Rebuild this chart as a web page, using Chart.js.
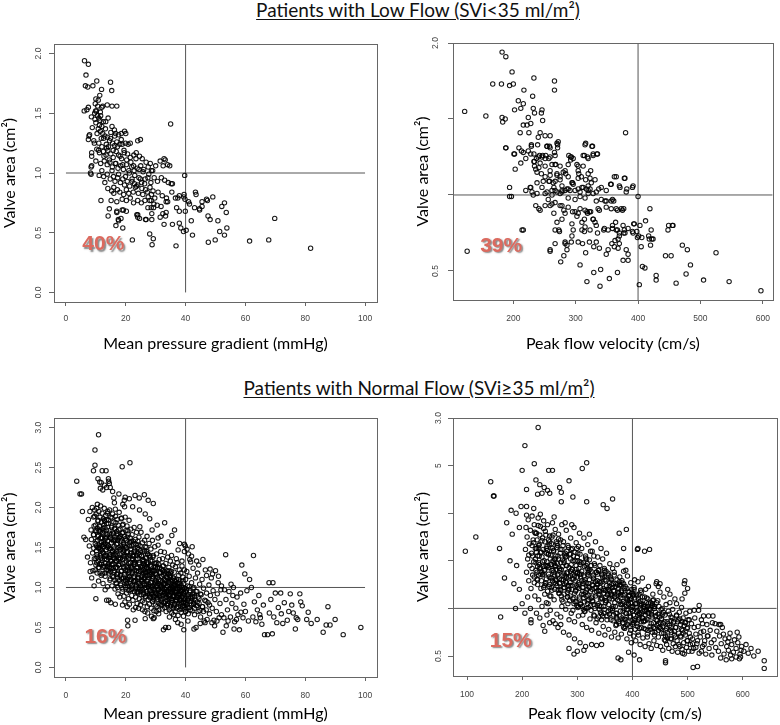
<!DOCTYPE html>
<html>
<head>
<meta charset="utf-8">
<script src="https://cdn.jsdelivr.net/npm/chart.js@4.4.1/dist/chart.umd.min.js"></script>
<style>
  body { margin: 0; background: #fff; width: 780px; height: 725px; position: relative; overflow: hidden; font-family: Lato, sans-serif; }
  .heading { position: absolute; font-size: 19px; line-height: 19px; text-decoration: underline; text-underline-offset: 2px; white-space: nowrap; transform: translateX(-50%); color: #111; }
  canvas { position: absolute; }
</style>
</head>
<body>
<div class="heading" style="left:418px; top:0px">Patients with Low Flow (SVi&lt;35 ml/m²)</div>
<div class="heading" style="left:419px; top:378px">Patients with Normal Flow (SVi≥35 ml/m²)</div>
<canvas id="lowMpg" width="390" height="330" style="left:0; top:30px"></canvas>
<canvas id="lowPfv" width="390" height="330" style="left:390px; top:30px"></canvas>
<canvas id="normMpg" width="390" height="320" style="left:0; top:405px"></canvas>
<canvas id="normPfv" width="390" height="320" style="left:390px; top:405px"></canvas>
<script>
// axis ticks and labels
const mpgTicks = [0, 20, 40, 60, 80, 100];
const lowPfvTicks = [200, 300, 400, 500, 600];
const normPfvTicks = [100, 200, 300, 400, 500, 600];
const lowMpgYTicks = [0, 0.5, 1, 1.5, 2];
const lowMpgYLabels = ['0.0', '0.5', '1.0', '1.5', '2.0'];
const lowPfvYTicks = [0.5, 1, 1.5, 2];
const lowPfvYLabels = ['0.5', '', '', '2.0'];
const normMpgYTicks = [0, 0.5, 1, 1.5, 2, 2.5, 3];
const normMpgYLabels = ['0.0', '0.5', '1.0', '1.5', '2.0', '2.5', '3.0'];
const normPfvYTicks = [0.5, 1, 1.5, 2, 2.5, 3];
const normPfvYLabels = ['0.5', '', '', '', '5', '3.0'];
const pctLabels = ['40%', '39%', '16%', '15%'];

// low flow: mean pressure gradient (mmHg) vs valve area (cm2)
const lowMpgPoints = [
  [6.2,1.94],[7.5,1.91],[6.7,1.82],[6.5,1.73],[7.3,1.72],[9.0,1.73],[10.3,1.77],[11.9,1.70],[14.9,1.76],[15.3,1.69],
  [10.0,1.62],[11.3,1.65],[6.1,1.52],[7.0,1.53],[7.5,1.55],[9.8,1.58],[10.6,1.56],[12.0,1.55],[10.2,1.52],[11.5,1.51],
  [9.6,1.50],[10.5,1.48],[13.8,1.57],[15.4,1.56],[17.0,1.56],[8.5,1.47],[9.7,1.45],[11.0,1.46],[11.6,1.48],[10.0,1.42],
  [11.2,1.40],[10.8,1.37],[12.0,1.39],[12.5,1.43],[13.3,1.43],[7.7,1.31],[7.9,1.32],[7.5,1.28],[15.4,1.39],[16.2,1.36],
  [15.0,1.34],[16.6,1.33],[17.6,1.32],[18.5,1.33],[20.0,1.33],[19.6,1.35],[35.0,1.41],
  [11.5,1.35],[12.3,1.33],[13.0,1.31],[12.6,1.29],[13.9,1.30],[11.0,1.25],[12.0,1.22],[13.5,1.24],[14.6,1.27],[14.2,1.22],
  [15.6,1.25],[16.3,1.23],[17.0,1.26],[18.0,1.24],[18.8,1.24],[19.9,1.25],[21.5,1.25],[24.0,1.27],[24.9,1.28],[10.3,1.20],
  [11.2,1.17],[12.5,1.18],[13.4,1.15],[14.0,1.19],[15.0,1.16],[15.8,1.13],[16.8,1.18],[17.6,1.15],[18.6,1.12],[19.5,1.17],
  [20.6,1.16],[21.5,1.13],[22.7,1.15],[23.4,1.12],[24.6,1.14],[25.5,1.12],[8.6,1.14],[8.6,1.17],[10.0,1.10],[11.6,1.08],
  [12.8,1.10],[13.8,1.07],[14.7,1.09],[15.5,1.05],[16.5,1.08],[17.4,1.04],[18.3,1.06],[19.2,1.03],[20.2,1.07],[21.0,1.02],
  [22.0,1.05],[22.8,1.02],[23.8,1.04],[25.0,1.06],[26.0,1.03],[27.5,1.05],[28.2,1.08],[29.0,1.02],[30.0,1.06],[31.5,1.10],
  [32.5,1.06],[33.2,1.11],[34.0,1.07],[34.7,1.06],[32.8,1.12],
  [8.2,1.00],[8.4,1.05],[8.6,1.06],[8.4,0.99],[11.1,0.98],[12.6,0.97],[13.8,0.99],[14.8,0.95],[15.9,0.97],[16.4,0.93],
  [17.3,0.96],[18.2,0.92],[19.0,0.95],[19.6,0.90],[20.5,0.93],[21.3,0.89],[22.1,0.95],[22.9,0.91],[23.2,0.88],[23.6,0.89],
  [24.4,0.96],[25.3,0.92],[26.5,0.95],[27.4,0.96],[28.4,0.92],[29.5,0.96],[30.6,0.93],[31.9,0.96],[33.0,0.94],[34.2,0.92],
  [35.2,0.91],[35.6,0.91],[39.7,0.98],
  [14.0,0.87],[15.3,0.85],[16.0,0.83],[17.2,0.86],[18.0,0.84],[19.3,0.82],[20.2,0.86],[21.0,0.83],[22.5,0.84],[24.2,0.83],
  [25.7,0.82],[26.6,0.86],[27.5,0.80],[28.6,0.82],[29.7,0.79],[30.8,0.84],[32.2,0.81],[33.6,0.79],[35.4,0.84],[36.6,0.79],
  [37.9,0.81],[39.5,0.82],[39.4,0.80],[39.8,0.78],[43.5,0.82],[43.3,0.84],[45.5,0.76],[47.0,0.78],[47.3,0.77],[49.1,0.80],
  [11.7,0.77],[15.1,0.77],[17.0,0.76],[18.8,0.78],[20.2,0.77],[21.5,0.79],[22.6,0.75],[24.0,0.77],[25.2,0.75],[26.4,0.77],
  [28.0,0.77],[28.5,0.77],[29.4,0.74],[30.5,0.73],[31.8,0.72],[33.5,0.76],[34.0,0.76],[37.4,0.79],[41.3,0.74],[44.6,0.70],
  [45.5,0.72],[41.0,0.76],
  [14.1,0.64],[14.5,0.70],[17.0,0.68],[17.0,0.67],[17.5,0.61],[16.7,0.56],[19.0,0.54],[18.8,0.69],[20.2,0.68],[19.2,0.69],
  [17.6,0.60],[18.4,0.62],[22.2,0.44],[24.0,0.65],[24.0,0.63],[23.7,0.65],[24.6,0.62],[26.6,0.61],[26.8,0.61],[27.4,0.71],
  [28.5,0.71],[28.0,0.49],[28.7,0.61],[28.7,0.66],[29.2,0.45],[28.8,0.40],[29.3,0.71],[31.5,0.63],[32.4,0.66],[33.3,0.64],
  [33.5,0.67],[32.8,0.57],[35.6,0.57],[36.8,0.39],[37.0,0.71],[37.9,0.58],[37.9,0.68],[38.4,0.54],[39.3,0.51],[39.9,0.68],
  [40.2,0.52],[41.9,0.60],[42.3,0.48],[43.0,0.71],[44.7,0.69],[47.5,0.64],[48.2,0.61],[47.6,0.42],[49.9,0.44],[50.8,0.60],
  [51.4,0.51],[53.0,0.48],[52.1,0.72],[53.0,0.75],[53.6,0.67],[53.8,0.54],[61.4,0.43],[67.8,0.44],[69.8,0.62],[81.8,0.37],
  [8.8,1.38],[9.3,1.27],[9.9,1.52],[10.4,1.33],[10.9,1.19],[11.4,1.44],[11.8,1.29],[12.3,1.56],[12.7,1.14],[13.2,1.37],
  [13.6,1.21],[14.1,1.46],[14.5,1.11],[14.9,1.29],[15.4,1.02],[15.8,1.19],[16.3,1.31],[16.7,1.08],[17.2,1.22],[17.6,0.99],
  [18.1,1.14],[18.5,1.28],[19.0,1.07],[19.4,1.19],[19.9,0.97],[20.3,1.11],[20.8,1.24],[21.2,1.00],[21.7,1.09],[22.1,0.93],
  [22.6,1.06],[23.0,0.98],[23.5,1.17],[24.0,0.90],[24.4,1.03],[24.9,0.95],[25.4,0.87],[25.8,1.01],[26.3,0.91],[26.8,1.09],
  [27.2,0.84],[27.7,0.99],[28.1,0.88],[28.6,1.02],[29.1,0.85],[12.0,1.02],[13.0,0.92],[16.0,0.88],[9.5,1.25],[10.8,1.61]
];

// low flow: peak flow velocity (cm/s) vs valve area (cm2)
const lowPfvPoints = [
  [122,1.55],[156,1.52],[182,1.94],[188,1.91],[198,1.81],[167,1.73],[181,1.73],[194,1.72],[200,1.73],[217,1.69],
  [233,1.77],[266,1.75],[266,1.69],[208,1.62],[216,1.60],[212,1.57],[202,1.56],[231,1.65],[232,1.57],[234,1.54],
  [246,1.56],[245,1.54],[247,1.49],[182,1.51],[183,1.48],[187,1.50],[188,1.31],[216,1.46],[222,1.46],[228,1.47],
  [211,1.41],[225,1.41],[224,1.51],[240,1.38],[239,1.33],[243,1.41],[251,1.39],[259,1.39],[254,1.32],[258,1.32],
  [272,1.35],[271,1.33],[266,1.28],[201,1.27],[213,1.29],[224,1.29],[203,1.17],[212,1.21],[220,1.24],[229,1.32],
  [228,1.27],[233,1.27],[237,1.24],[242,1.26],[247,1.26],[252,1.26],[257,1.24],[234,1.22],[236,1.17],[243,1.21],
  [315,1.33],[326,1.32],[312,1.26],[320,1.24],[335,1.27],[328,1.26],[292,1.25],[296,1.24],[380,1.41],[365,1.12],
  [379,1.11],[356,1.07],[371,1.05],[382,1.04],[392,1.06],[400,0.99],
  [251,1.19],[259,1.16],[267,1.20],[270,1.14],[275,1.12],[283,1.16],[288,1.20],[302,1.20],[304,1.16],[312,1.19],
  [320,1.14],[324,1.16],[331,1.10],[320,1.06],[310,1.05],[299,1.03],[288,1.04],[278,1.02],[265,1.05],[257,1.09],
  [246,1.05],[238,1.08],[230,1.02],[267,1.09],[278,1.06],[294,1.08],[307,0.99],[320,1.01],[333,1.02],[341,1.05],
  [349,1.03],[194,1.05],[194,0.99],[197,0.99],
  [188,1.31],[202,1.27],[209,1.31],[216,1.28],[229,1.33],[233,1.22],[234,1.19],[238,1.15],[241,1.18],[245,1.14],
  [254,1.32],[259,1.31],[270,1.34],[271,1.31],[267,1.26],[259,1.25],[251,1.24],[246,1.25],[240,1.25],[262,1.20],
  [268,1.20],[275,1.19],[280,1.15],[270,1.13],[259,1.13],[251,1.12],[248,1.09],[258,1.09],[264,1.08],[275,1.10],
  [284,1.14],[288,1.12],[295,1.08],[304,1.11],[309,1.12],[316,1.10],[323,1.11],[325,1.08],[323,1.04],[312,1.05],
  [304,1.04],[286,1.04],[278,1.03],[270,1.02],[262,1.03],[254,1.02],[227,1.05],[289,1.26],[293,1.25],[292,1.23],
  [304,1.19],[305,1.14],[314,1.26],[319,1.25],[328,1.27],[334,1.27],[316,1.34],[327,1.32],[317,1.04],[337,1.04],
  [362,1.12],[378,1.11],[370,1.06],[357,1.07],[391,1.05],[381,1.02],
  [228,1.05],[232,1.00],[238,1.01],[236,0.93],[251,0.93],[243,0.90],[241,0.91],[267,0.95],[265,0.88],[259,0.93],
  [262,0.94],[275,0.93],[278,0.93],[270,0.82],[273,0.77],[281,0.90],[283,0.88],[283,0.69],[283,0.68],[293,0.69],
  [267,0.77],[274,0.76],[276,0.56],[281,0.60],[294,0.81],[296,0.77],[302,0.86],[307,0.91],[310,0.82],[315,0.79],
  [314,0.76],[304,0.88],[311,0.68],[316,0.62],[307,0.54],[318,0.89],[322,0.89],[324,0.89],[328,0.84],[331,0.82],
  [333,0.80],[329,0.66],[338,0.65],[318,0.43],[329,0.49],[340,0.51],[339,0.40],[354,0.45],[341,0.97],[349,0.96],
  [359,0.97],[361,0.96],[349,0.92],[357,0.91],[367,0.90],[373,0.91],[377,0.91],[345,0.77],[352,0.77],[359,0.80],
  [364,0.82],[367,0.77],[370,0.75],[377,0.75],[363,0.70],[368,0.71],[370,0.68],[358,0.68],[362,0.66],[368,0.65],
  [381,0.64],[376,0.57],[384,0.57],[349,0.61],[352,0.64],[367,0.49],[384,0.61],[393,0.81],[398,0.76],[384,0.78],
  [376,0.80],[392,0.75],[412,0.83],[419,0.91],[421,0.77],[418,0.71],[424,0.71],[420,0.67],[405,0.66],[406,0.72],
  [401,0.73],[402,0.41],[407,0.53],[411,0.52],[429,0.47],[429,0.44],[444,0.60],[453,0.60],[449,0.80],[456,0.80],
  [461,0.42],[471,0.67],[479,0.64],[477,0.48],[484,0.54],[505,0.44],[525,0.62],[546,0.43],[597,0.37],[126,0.63],
  [216,0.77],[259,0.63],[220,1.03],[251,1.01],[256,0.97],[262,1.00],[267,1.03],[275,1.01],[283,1.03],[288,0.98],
  [299,0.97],[307,1.02],[315,0.98],[320,1.03],[328,1.01],[333,0.96],[291,1.03],[296,1.07],[288,0.92],[295,0.89],
  [299,0.89],[278,0.84],[304,0.69],[322,0.69],[286,0.67],[294,0.73],[310,0.77],[323,0.77],[335,0.75],[346,0.78],
  [359,0.78],[365,0.77],[378,0.77],[394,0.81],[403,0.80],[370,0.73],[379,0.75],[391,0.76],[399,0.72],[417,0.73],
  [422,0.71],[333,0.69],[286,0.64],[267,0.68],[259,0.64],[448,0.77],[455,0.80],[214,0.77],[315,0.90],[319,0.88],
  [336,0.91],[338,0.90],[347,0.96],[357,0.96],[365,0.91],[375,0.90],[314,0.84],[328,0.84]
];

// normal flow: mean pressure gradient (mmHg) vs valve area (cm2)
const normMpgPoints = [
  [3.6,2.33],[4.7,2.17],[5.2,2.17],[9.7,2.72],[9.7,2.53],[9.2,2.46],[12.1,2.46],[13.4,2.46],[10.9,2.91],[21.4,2.56],
  [18.8,2.51],[10.7,2.36],[11.3,2.32],[11.8,2.31],[14.2,2.36],[14.3,2.33],[14.5,2.30],[13.6,2.25],[14.8,2.25],[17.7,2.17],
  [19.8,2.13],[19.5,2.09],[21.2,2.11],[23.1,2.15],[24.5,2.12],[26.2,2.16],[27.5,2.09],[29.2,2.05],[16.2,2.06],[16.5,1.98],
  [19.0,2.04],[19.6,2.01],[33.0,1.81],[35.4,1.65],[38.0,1.55],[39.6,1.54],[42.2,1.51],[31.8,1.64],[12.3,2.22],[12.9,2.28],
  [11.5,2.24],[15.6,2.20],[16.0,2.12],[6.0,1.63],[6.6,1.60],[5.5,1.95],[30.5,1.78],[28.0,1.86],[26.5,1.92],[24.6,1.97],
  [22.3,2.01],[36.3,1.72],[34.2,1.57],[37.5,1.47],[40.5,1.48],[41.0,1.42],
  [7.5,1.85],[7.8,1.52],[8.0,1.95],[8.2,1.31],[8.4,1.72],[8.5,1.60],[8.8,2.00],[8.9,1.43],[9.0,1.21],[9.2,1.88],
  [9.3,1.66],[9.5,1.36],[9.6,1.97],[9.8,1.55],[9.9,1.78],[10.0,1.28],[8.1,1.20],[8.6,1.12],[7.2,1.38],[9.4,1.02],[10.0,0.86],
  [10.1,1.92],[10.2,1.46],[10.3,1.71],[10.4,1.18],[10.5,2.04],[10.6,1.59],[10.7,1.84],[10.8,1.33],[10.9,1.65],[11.0,1.95],
  [11.1,1.25],[11.2,1.77],[11.3,1.50],[11.4,1.88],[11.5,1.40],[11.6,2.02],[11.7,1.62],[11.8,1.15],[11.9,1.82],[12.0,1.53],
  [10.4,1.38],[10.9,1.08],[11.5,1.70],[11.9,1.29],[10.3,1.99],[10.7,1.50],
  [12.1,1.93],[12.2,1.44],[12.3,1.68],[12.4,1.05],[12.5,1.86],[12.6,1.27],[12.7,1.57],[12.8,1.99],[12.9,1.36],[13.0,1.75],
  [13.1,1.14],[13.2,1.61],[13.3,1.90],[13.4,1.47],[13.5,1.22],[13.6,1.80],[13.7,1.39],[13.8,1.66],[13.9,1.01],[14.0,1.95],
  [12.4,1.74],[12.9,1.83],[13.3,1.30],[13.7,1.54],[12.2,1.17],[13.1,0.97],
  [14.1,1.52],[14.2,1.84],[14.3,1.18],[14.4,1.71],[14.5,1.41],[14.6,1.97],[14.7,1.09],[14.8,1.63],[14.9,1.33],[15.0,1.88],
  [15.1,1.24],[15.2,1.56],[15.3,1.77],[15.4,1.02],[15.5,1.46],[15.6,1.92],[15.7,1.29],[15.8,1.68],[15.9,1.13],[16.0,1.82],
  [14.3,0.84],[15.0,0.81],[14.8,1.48],[15.4,1.60],[14.5,1.26],[15.8,1.40],
  [16.1,1.51],[16.2,1.21],[16.3,1.74],[16.4,0.98],[16.5,1.60],[16.6,1.89],[16.7,1.34],[16.8,1.05],[16.9,1.67],[17.0,1.42],
  [17.1,1.85],[17.2,1.16],[17.3,1.55],[17.4,0.92],[17.5,1.78],[17.6,1.28],[17.7,1.62],[17.8,1.94],[17.9,1.09],[18.0,1.47],
  [16.4,1.43],[17.0,1.70],[17.6,1.37],[16.8,1.25],[17.3,1.00],[18.0,0.88],
  [18.1,1.73],[18.2,1.36],[18.3,1.03],[18.4,1.58],[18.5,1.86],[18.6,1.21],[18.7,1.49],[18.8,0.95],[18.9,1.68],[19.0,1.30],
  [19.1,1.79],[19.2,1.12],[19.3,1.54],[19.4,0.89],[19.5,1.41],[19.6,1.64],[19.7,1.18],[19.8,1.88],[19.9,1.00],[20.0,1.50],
  [18.5,1.12],[19.3,1.26],[19.7,0.82],[18.9,0.78],[20.0,1.71],[18.3,1.64],
  [20.1,1.33],[20.2,1.59],[20.3,0.93],[20.4,1.77],[20.5,1.21],[20.6,1.45],[20.7,1.06],[20.8,1.67],[20.9,0.86],[21.0,1.38],
  [21.1,1.84],[21.2,1.14],[21.3,1.52],[21.4,0.97],[21.5,1.62],[21.6,1.27],[21.7,1.73],[21.8,1.02],[21.9,1.43],[22.0,0.90],
  [20.5,0.76],[21.2,0.79],[20.8,1.25],[21.6,1.10],[20.2,1.05],[21.9,1.58],
  [22.1,1.66],[22.2,1.19],[22.3,1.39],[22.4,0.84],[22.5,1.54],[22.6,1.08],[22.7,1.29],[22.8,1.75],[22.9,0.95],[23.0,1.47],
  [23.1,1.17],[23.2,1.60],[23.3,0.88],[23.4,1.35],[23.5,1.03],[23.6,1.69],[23.7,1.24],[23.8,0.80],[23.9,1.50],[24.0,1.12],
  [22.5,0.72],[23.3,0.75],[22.9,1.32],[23.7,1.42],[22.2,0.99],[24.0,1.58],
  [24.1,0.93],[24.2,1.43],[24.3,1.20],[24.4,1.63],[24.5,0.86],[24.6,1.31],[24.7,1.05],[24.8,1.52],[24.9,0.78],[25.0,1.26],
  [25.1,1.69],[25.2,0.99],[25.3,1.40],[25.4,1.14],[25.5,0.83],[25.6,1.56],[25.7,1.08],[25.8,1.35],[25.9,0.91],[26.0,1.47],
  [24.3,0.74],[25.2,1.22],[24.7,1.76],[25.6,0.72],[26.0,1.18],[24.9,1.02],
  [26.1,1.28],[26.2,0.81],[26.3,1.59],[26.4,1.03],[26.5,1.37],[26.6,0.88],[26.7,1.19],[26.8,1.50],[26.9,0.95],[27.0,1.24],
  [27.1,1.64],[27.2,0.76],[27.3,1.10],[27.4,1.42],[27.5,0.85],[27.6,1.31],[27.7,1.01],[27.8,1.55],[27.9,0.79],[28.0,1.16],
  [26.4,0.70],[27.3,0.68],[26.9,1.45],[27.7,1.21],[26.2,1.12],[28.0,0.92],
  [28.1,1.38],[28.2,0.87],[28.3,1.06],[28.4,1.48],[28.5,0.74],[28.6,1.21],[28.7,0.94],[28.8,1.33],[28.9,1.59],[29.0,0.82],
  [29.1,1.13],[29.2,1.40],[29.3,0.99],[29.4,0.71],[29.5,1.26],[29.6,0.89],[29.7,1.51],[29.8,1.07],[29.9,0.78],[30.0,1.30],
  [28.6,0.64],[29.5,0.62],[28.4,1.02],[29.0,1.20],[29.8,0.96],[28.8,1.72],
  [30.1,0.92],[30.2,1.16],[30.3,1.42],[30.4,0.76],[30.5,1.03],[30.6,1.25],[30.7,0.85],[30.8,1.53],[30.9,0.97],[31.0,1.10],
  [31.1,0.72],[31.2,1.35],[31.3,0.88],[31.4,1.19],[31.5,1.00],[31.6,0.79],[31.7,1.45],[31.8,0.94],[31.9,1.23],[32.0,0.82],
  [30.4,1.31],[31.0,0.67],[31.6,1.08],[30.8,1.62],[32.0,1.02],[30.2,0.70],
  [32.1,1.14],[32.2,0.73],[32.3,1.36],[32.4,0.90],[32.5,1.05],[32.6,1.27],[32.7,0.81],[32.8,0.98],[32.9,1.44],[33.0,0.75],
  [33.1,1.18],[33.2,0.87],[33.3,1.09],[33.4,1.30],[33.5,0.70],[33.6,0.95],[33.7,1.21],[33.8,0.84],[33.9,1.02],[34.0,1.38],
  [32.6,0.47],[33.3,0.50],[32.4,1.21],[33.1,0.93],[33.7,0.78],[34.0,1.12],
  [34.1,0.80],[34.2,1.06],[34.3,0.91],[34.4,1.25],[34.5,0.72],[34.6,1.15],[34.7,0.86],[34.8,0.99],[34.9,1.33],[35.0,0.77],
  [35.1,1.08],[35.2,0.93],[35.3,1.20],[35.4,0.68],[35.5,1.01],[35.6,0.84],[35.7,1.28],[35.8,0.96],[35.9,0.74],[36.0,1.12],
  [34.6,0.63],[35.3,1.40],[35.9,0.89],[34.3,1.17],[35.0,0.98],[36.0,0.66],
  [36.1,0.90],[36.2,1.19],[36.3,0.79],[36.4,1.03],[36.5,0.70],[36.6,1.26],[36.7,0.94],[36.8,0.83],[36.9,1.10],[37.0,0.74],
  [37.1,0.99],[37.2,1.31],[37.3,0.87],[37.4,1.06],[37.5,0.65],[37.6,0.92],[37.7,1.15],[37.8,0.80],[37.9,1.00],[38.0,0.72],
  [36.9,1.36],[37.4,0.56],[36.3,1.09],[37.9,1.22],[38.0,0.91],[36.6,0.60],
  [38.1,1.08],[38.2,0.84],[38.3,0.95],[38.4,1.18],[38.5,0.69],[38.6,1.02],[38.7,0.88],[38.8,1.27],[38.9,0.76],[39.0,0.97],
  [39.1,1.13],[39.2,0.81],[39.3,0.64],[39.4,1.05],[39.5,0.92],[39.6,1.22],[39.7,0.73],[39.8,0.99],[39.9,0.86],[40.0,1.10],
  [38.5,0.54],[39.4,0.47],[39.6,1.45],[39.9,1.52],[38.8,1.33],[40.0,0.70],
  [40.2,0.94],[40.4,1.20],[40.5,0.78],[40.7,1.02],[40.9,0.67],[41.0,0.88],[41.2,1.14],[41.3,0.75],[41.5,0.96],[41.7,1.32],
  [41.8,0.83],[42.0,1.06],[42.2,0.71],[42.3,0.92],[42.5,1.24],[42.7,0.80],[42.8,1.00],[43.0,0.66],[42.0,1.39],[41.4,1.35],
  [40.8,0.58],[43.0,0.89],[42.8,0.48],[43.5,0.50],
  [43.3,1.12],[43.6,0.77],[43.8,0.95],[44.0,1.18],[44.2,0.70],[44.5,0.86],[44.7,1.04],[45.0,0.63],[45.2,0.91],[45.5,1.10],
  [45.7,0.76],[46.0,0.99],[46.2,0.58],[46.4,0.84],[46.6,1.22],[46.9,0.72],[47.0,0.93],[44.4,1.28],[45.8,1.35],[47.0,1.15],
  [44.9,0.55],[46.5,0.56],[43.7,1.33],[47.2,0.60],
  [47.5,0.81],[47.8,1.03],[48.0,0.67],[48.3,0.90],[48.6,1.12],[48.9,0.74],[49.2,0.96],[49.5,0.59],[49.8,0.85],[50.0,1.21],
  [50.3,0.70],[50.6,0.92],[50.9,1.06],[51.2,0.62],[51.5,0.80],[51.8,0.97],[52.0,0.66],[48.2,1.23],[49.0,1.17],[50.5,0.58],
  [51.0,1.14],[49.7,0.52],[48.8,0.56],[52.0,1.02],
  [52.5,0.44],[53.4,1.41],[53.6,0.52],[53.5,0.85],[54.0,0.72],[54.5,0.95],[55.0,0.63],[55.5,0.80],[56.0,1.00],[56.4,0.57],
  [56.8,0.74],[57.2,0.88],[57.5,0.66],[58.0,0.47],[58.4,0.93],[58.8,1.28],[59.2,0.62],[59.5,0.79],[59.8,1.17],[60.0,0.70],
  [61.4,1.10],[60.5,0.96],[61.0,0.58],[62.7,1.40],[62.0,1.00],[62.5,0.63],[52.8,0.62],[54.2,0.58],[55.8,0.90],[57.0,0.60],
  [58.5,0.69],[53.0,0.97],[55.2,1.04],[56.2,0.48],
  [63.0,0.82],[63.5,0.57],[64.0,0.72],[64.5,0.90],[65.0,0.62],[65.5,0.54],[66.0,0.78],[66.4,0.41],[67.4,0.41],[69.0,0.42],
  [67.9,1.06],[69.2,1.06],[68.5,0.85],[68.0,0.68],[69.5,0.63],[70.0,0.93],[70.5,0.56],[71.0,0.75],[71.8,0.93],[72.0,0.67],
  [72.5,0.55],[73.0,0.81],[74.0,0.59],[75.0,0.92],[75.5,0.78],[76.0,0.68],[76.7,0.48],[77.0,0.62],[78.2,0.92],[78.5,0.82],
  [77.5,0.60],[81.0,0.69],[80.5,0.60],[84.0,0.60],[86.0,0.44],[87.0,0.53],[87.6,0.76],[88.3,0.53],[90.0,0.60],[92.7,0.41],
  [98.6,0.50],[64.8,0.66],[74.5,0.70],[79.0,0.77],[82.0,0.55],
  [20.6,0.59],[20.7,0.52],[23.1,0.59],[26.5,0.61],[29.2,0.61],[34.3,0.50],[16.5,0.79],[13.6,0.84]
];

// normal flow, mean gradient: the heavily overplotted core of the cloud
const normMpgCore = [
  [14.3,1.52],[27.1,1.08],[9.4,1.77],[33.8,0.93],[21.6,1.31],[38.2,0.86],[17.9,1.63],[11.2,1.29],[25.3,1.39],[42.7,0.79],
  [30.4,1.17],[15.8,1.24],[36.1,1.02],[19.5,1.47],[23.2,0.99],[12.6,1.71],[28.8,0.91],[40.3,0.97],[16.7,1.81],[34.9,1.18],
  [10.1,1.58],[26.4,1.27],[31.7,0.84],[20.8,1.12],[37.6,0.76],[13.9,1.93],[24.1,1.53],[44.2,0.88],[18.3,1.05],[29.6,1.30],
  [35.4,0.81],[22.7,1.44],[11.8,1.37],[39.1,1.08],[16.2,1.36],[32.5,1.21],[27.9,0.89],[14.8,1.11],[41.6,0.72],[19.1,1.69],
  [24.8,1.02],[9.8,1.22],[33.1,1.04],[21.3,1.56],[37.0,0.95],[13.4,1.47],[29.0,1.11],[17.4,1.18],[43.5,0.95],[26.0,0.93],
  [12.2,1.62],[38.8,0.73],[20.1,1.27],[30.9,0.98],[15.3,1.75],[35.9,1.12],[23.6,1.21],[10.7,1.83],[28.3,1.34],[45.6,0.76],
  [18.7,1.42],[32.0,0.78],[25.7,1.17],[14.0,1.28],[39.7,0.83],[21.9,0.97],[11.5,1.48],[36.6,1.07],[27.3,1.42],[16.9,1.54],
  [34.2,0.87],[22.4,1.36],[13.1,1.18],[40.9,0.91],[19.8,1.02],[29.4,0.85],[9.2,1.66],[24.5,1.29],[37.9,1.01],[15.6,1.45],
  [31.2,1.25],[17.2,1.12],[26.8,1.00],[12.9,1.84],[35.0,0.99],[20.5,1.63],[42.1,0.86],[28.1,1.19],[23.0,1.07],[10.4,1.41],
  [38.4,0.92],[16.0,1.67],[33.6,1.13],[25.0,1.46],[14.6,1.39],[30.1,0.93],[21.1,1.19],[46.8,0.83],[18.0,1.29],[36.3,0.80],
  [11.0,1.71],[27.6,1.23],[39.4,0.77],[23.9,0.95],[15.0,1.20],[32.8,0.95],[19.3,1.56],[34.7,1.06],[13.7,1.63],[26.2,1.11],
  [41.2,1.01],[20.4,1.39],[29.9,1.05],[12.4,1.25],[36.9,0.88],[17.7,1.72],[24.3,1.12],[31.5,0.90],[9.6,1.89],[43.0,0.74],
  [22.0,1.24],[35.7,0.94],[14.5,1.68],[28.6,1.00],[18.5,1.20],[33.3,0.82],[25.5,0.97],[11.9,1.56],[38.1,1.05],[16.4,1.09],
  [30.6,1.13],[21.7,1.48],[40.0,0.70],[13.6,1.35],[27.0,1.31],[19.0,0.98],[34.5,1.21],[23.4,1.54],[10.3,1.31],[37.3,0.98],
  [15.9,1.58],[26.6,0.89],[32.3,1.07],[20.0,1.08],[42.9,0.92],[12.0,1.47],[29.2,1.22],[17.0,1.45],[36.0,0.77],[24.0,1.36],
  [33.9,1.02],[18.9,1.78],[28.0,0.96],[14.1,1.21],[39.0,0.89],[22.2,1.03],[31.0,1.29],[10.9,1.49],[25.9,1.22],[44.8,0.71],
  [16.6,1.25],[35.2,0.86],[21.4,1.40],[13.0,1.55],[29.7,0.94],[37.7,1.10],[24.7,0.98],[19.6,1.52],[41.9,0.78],[27.4,1.15],
  [11.4,1.18],[32.6,1.16],[17.6,1.35],[26.3,1.45],[38.6,0.81],[15.2,1.33],[30.3,0.87],[22.9,1.14],[34.0,0.78],[20.7,1.71],
  [28.5,1.26],[12.7,1.78],[36.5,1.03],[18.2,1.15],[25.2,1.08],[40.6,0.84],[14.9,1.62],[31.9,1.01],[23.7,0.94],[9.9,1.71],
  [37.1,0.90],[19.7,1.31],[27.2,0.92],[16.3,1.73],[33.4,0.91],[22.5,1.58],[29.1,1.38],[13.3,1.40],[43.9,0.82],[35.6,1.09],
  [21.0,0.96],[31.4,1.18],[15.5,1.14],[26.9,1.37],[39.9,0.95],[11.6,1.62],[24.9,1.20],[18.4,1.61],[34.3,0.96],[28.9,0.83],
  [13.8,1.26],[36.8,0.83],[23.1,1.29],[30.0,1.09],[17.1,1.25],[41.4,0.94],[20.3,1.50],[32.1,0.86],[25.6,1.34],[10.6,1.64],
  [38.9,1.00],[16.1,1.48],[27.7,1.04],[35.1,0.74],[22.1,1.17],[14.2,1.80],[29.5,0.97],[19.4,1.24],[45.0,0.92],[24.4,1.48],
  [12.5,1.43],[33.0,1.20],[18.6,1.87],[26.1,1.05],[37.4,0.87],[21.5,1.05],[31.1,0.80],[15.1,1.66],[28.2,1.28],[40.4,0.79],
  [23.8,1.25],[35.8,1.02],[10.0,1.36],[30.8,1.05],[17.3,1.59],[25.1,0.91],[42.5,0.99],[20.9,1.36],[13.5,1.72],[33.7,0.88],
  [27.5,1.20],[16.8,1.06],[39.3,0.93],[22.6,1.40],[12.1,1.34],[34.8,1.13],[19.2,1.44],[29.8,1.17],[24.2,1.05],[36.4,0.94],
  [14.7,1.49],[31.6,1.03],[21.2,1.22],[38.3,0.78],[26.5,1.51],[11.3,1.76],[32.9,1.10],[18.1,1.37],[46.0,0.70],[28.7,1.06],
  [20.6,1.10],[35.5,0.97],[15.7,1.30],[25.4,1.27],[41.0,0.86],[13.2,1.63],[30.5,1.24],[23.5,1.01],[37.8,0.92],[17.8,1.50],
  [33.2,0.97],[10.8,1.25],[27.8,1.12],[19.9,1.61],[36.2,1.04],[22.8,1.31],[14.4,1.37],[31.3,0.92],[44.5,0.80],[26.7,1.18],
  [18.8,1.11],[39.6,0.99],[24.6,1.41],[12.3,1.51],[29.3,0.88],[16.5,1.41],[34.6,0.90],[21.8,1.25],[27.1,0.95],[40.8,0.75],
  [15.4,1.87],[32.4,1.27],[23.3,1.09],[37.5,1.05],[11.7,1.42],[28.4,1.16],[19.5,1.16],[35.3,0.84],[25.8,1.30],[13.6,1.85],
  [42.3,0.89],[21.6,1.57],[30.2,1.01],[17.5,1.28],[26.2,0.99],[36.7,0.96],[14.0,1.58],[33.5,1.00],[22.3,1.35],[48.0,0.78],
  [9.3,1.49],[24.0,1.13],[38.0,0.84],[16.0,1.19],[31.8,1.14],[20.2,1.44],[27.0,1.25],[35.0,1.14],[12.8,1.39],[29.0,1.02],
  [19.0,1.35],[34.1,0.80],[25.3,1.10],[11.1,1.53],[39.2,0.86],[22.9,1.45],[14.7,1.24],[30.7,0.91],[17.3,1.67],[43.2,0.84],
  [28.0,1.40],[13.0,1.26],[36.1,0.90],[23.7,1.40],[32.7,1.04],[18.4,1.52],[26.9,1.03],[40.1,0.81],[15.9,1.37],[21.3,1.13],
  [34.4,1.07],[10.5,1.74],[29.6,1.21],[20.0,1.21],[38.7,0.96],[24.8,0.95],[16.9,1.33],[31.0,0.97],[12.1,1.69],[27.2,1.29],
  [37.0,0.85],[22.0,1.52],[14.9,1.41],[33.8,1.08],[26.4,1.15],[19.8,1.09],[41.7,0.88],[28.6,0.92],[11.8,1.31],[35.9,0.88],
  [23.0,1.22],[17.0,1.17],[30.4,1.07],[13.9,1.50],[39.8,0.80],[25.6,1.25],[21.0,1.30],[32.2,0.99],[15.3,1.28],[44.0,0.77],
  [27.5,1.01],[12.6,1.54],[35.7,1.00],[18.1,1.48],[29.9,1.25],[24.1,1.16],[37.2,1.02],[20.5,1.02],[10.2,1.52],[33.0,0.93],
  [16.2,1.59],[26.0,1.33],[31.6,0.95],[22.7,1.08],[38.5,0.94],[14.3,1.30],[28.8,1.14],[19.3,1.39],[42.6,0.82],[34.9,0.95]
];

// normal flow: peak flow velocity (cm/s) vs valve area (cm2)
const normPfvPoints = [
  [229,2.90],[205,2.71],[222,2.52],[317,2.53],[309,2.47],[200,2.45],[248,2.45],[255,2.45],[143,2.33],[148,2.18],
  [149,2.18],[208,2.25],[225,2.35],[232,2.30],[240,2.27],[228,2.20],[236,2.21],[250,2.21],[246,2.24],[285,2.34],
  [268,2.27],[271,2.22],[271,2.12],[292,2.17],[317,2.12],[347,2.09],[354,2.05],[364,2.15],[180,2.03],[189,2.00],
  [198,2.07],[208,2.07],[221,2.05],[116,1.75],[376,1.79],[389,1.83],[384,1.63],[410,1.63],[97,1.60],[159,1.63],
  [168,1.32],[161,0.91],[188,1.00],[216,0.88],[216,0.85],[241,0.76],[270,0.83],[256,0.87],[260,0.84],[294,0.52],
  [326,0.62],[335,0.61],[344,0.62],[374,0.48],[379,0.46],[393,0.54],[403,0.51],[413,0.46],[460,0.45],[460,0.43],
  [491,0.53],[508,0.55],[510,0.38],[518,0.39],[570,0.46],[588,0.49],[578,0.51],[594,0.47],[597,0.56],[596,0.49],
  [639,0.45],[639,0.37],[593,0.70],[573,0.65],[575,0.69],[557,0.83],[560,0.83],[546,0.92],[529,0.92],[520,0.98],
  [521,1.03],[495,1.29],[494,1.26],[490,1.10],[495,1.16],[500,1.21],[480,1.05],[464,1.20],[468,1.15],[444,1.28],
  [447,1.23],[450,1.26],[422,1.60],[431,1.62],[409,1.62],[172,1.90],[182,1.78],[195,1.85],[190,1.45],[178,1.50],
  [195,1.20],[185,1.26],[200,1.05],[205,0.95],[210,1.12],[215,1.00],
  [206,1.62],[207,1.85],[208,1.38],[209,1.75],[210,1.52],[211,1.93],[212,1.29],[213,1.68],[214,1.45],[215,1.82],
  [216,1.21],[217,1.58],[218,1.97],[219,1.35],[220,1.72],[221,1.49],[222,1.88],[223,1.13],[224,1.63],[225,1.40],
  [212,1.56],[218,1.66],[222,1.27],[208,1.98],
  [226,1.79],[227,1.31],[228,1.55],[229,1.95],[230,1.09],[231,1.67],[232,1.42],[233,1.86],[234,1.21],[235,1.59],
  [236,1.02],[237,1.74],[238,1.36],[239,1.92],[240,1.50],[241,1.15],[242,1.81],[243,1.27],[244,1.63],[245,1.44],
  [230,1.48],[236,1.38],[241,1.70],[228,1.25],[244,1.06],[233,1.99],
  [246,1.88],[247,1.05],[248,1.57],[249,1.33],[250,1.76],[251,0.98],[252,1.46],[253,1.68],[254,1.19],[255,1.90],
  [256,1.40],[257,1.61],[258,1.09],[259,1.52],[260,1.83],[261,1.26],[262,1.70],[263,0.94],[264,1.35],[265,1.55],
  [249,1.23],[252,1.13],[256,1.77],[260,1.44],[263,1.64],[247,1.45],[254,1.32],[258,1.96],
  [266,1.78],[267,1.16],[268,1.42],[269,1.62],[270,0.91],[271,1.30],[272,1.88],[273,1.51],[274,1.07],[275,1.70],
  [276,1.37],[277,1.22],[278,1.58],[279,0.99],[280,1.82],[281,1.45],[282,1.12],[283,1.66],[284,1.33],[285,0.88],
  [268,1.26],[272,1.02],[276,1.48],[280,1.55],[284,1.19],[270,1.72],[278,1.90],[282,1.38],
  [286,1.57],[287,1.24],[288,1.74],[289,0.95],[290,1.41],[291,1.63],[292,1.10],[293,1.31],[294,1.85],[295,0.86],
  [296,1.50],[297,1.18],[298,1.69],[299,1.03],[300,1.37],[301,1.58],[302,0.92],[303,1.27],[304,1.79],[305,1.46],
  [288,1.34],[292,1.50],[296,1.07],[300,1.22],[304,1.12],[290,1.88],[298,1.41],[302,1.65],
  [306,1.05],[307,1.36],[308,1.63],[309,0.83],[310,1.22],[311,1.48],[312,1.74],[313,0.97],[314,1.30],[315,1.55],
  [316,1.13],[317,0.80],[318,1.42],[319,1.67],[320,1.01],[321,1.26],[322,1.51],[323,0.89],[324,1.18],[325,1.39],
  [308,1.15],[312,1.28],[316,1.45],[320,1.35],[324,1.60],[310,0.93],[318,1.08],[322,1.78],
  [326,0.77],[327,1.60],[328,1.08],[329,1.32],[330,0.93],[331,1.47],[332,1.21],[333,1.70],[334,0.85],[335,1.38],
  [336,1.03],[337,1.54],[338,1.15],[339,0.74],[340,1.28],[341,1.45],[342,0.96],[343,1.63],[344,1.11],[345,1.35],
  [328,1.24],[332,1.00],[336,1.26],[340,1.18],[344,0.88],[330,1.55],[338,1.40],[342,1.22],
  [346,1.52],[347,0.81],[348,1.19],[349,1.40],[350,0.72],[351,1.06],[352,1.29],[353,1.58],[354,0.92],[355,1.14],
  [356,1.37],[357,0.78],[358,1.23],[359,1.47],[360,0.99],[361,1.31],[362,0.70],[363,1.10],[364,1.42],[365,0.87],
  [348,1.02],[352,1.12],[356,1.20],[360,1.15],[364,1.00],[350,1.33],[358,0.94],[362,1.25],
  [366,1.18],[367,1.38],[368,0.75],[369,1.02],[370,1.26],[371,0.91],[372,1.46],[373,1.09],[374,0.69],[375,1.21],
  [376,0.84],[377,1.33],[378,0.97],[379,1.14],[380,0.73],[381,1.29],[382,1.05],[383,0.88],[384,1.39],[385,1.00],
  [368,1.12],[372,0.95],[376,1.08],[380,1.17],[384,0.80],[370,0.82],[378,1.25],[382,1.50],
  [386,0.79],[387,1.23],[388,0.95],[389,1.10],[390,0.68],[391,1.34],[392,0.86],[393,1.04],[394,1.17],[395,0.74],
  [396,0.92],[397,1.27],[398,0.64],[399,1.01],[400,0.83],[401,1.14],[402,0.71],[403,1.22],[404,0.89],[405,1.05],
  [388,1.40],[392,1.08],[396,0.81],[400,0.97],[404,1.30],[390,0.99],[398,1.10],[402,0.93],
  [406,0.66],[407,1.15],[408,0.84],[409,0.98],[410,1.28],[411,0.72],[412,1.07],[413,0.90],[414,0.62],[415,1.19],
  [416,0.80],[417,0.95],[418,1.32],[419,0.69],[420,1.02],[421,0.87],[422,1.12],[423,0.60],[424,0.78],[425,0.97],
  [408,1.05],[412,0.95],[416,1.05],[420,0.86],[424,1.20],[410,0.75],[418,0.90],
  [426,1.11],[427,0.70],[428,0.88],[429,1.23],[430,0.63],[431,0.99],[432,0.81],[433,1.06],[434,0.58],[435,0.93],
  [436,0.75],[437,1.15],[438,0.85],[439,0.66],[440,1.02],[441,0.79],[442,0.92],[443,1.26],[444,0.61],[445,0.87],
  [430,0.95],[436,1.03],[440,0.72],[428,0.77],[438,1.09],
  [446,1.08],[447,0.70],[448,0.94],[449,0.80],[450,1.17],[451,0.60],[452,0.89],[453,0.74],[454,1.00],[455,0.56],
  [456,0.84],[457,1.12],[458,0.67],[459,0.93],[460,0.77],[461,1.04],[462,0.62],[463,0.86],[464,0.71],[465,0.97],
  [450,0.85],[456,0.96],[460,0.66],[448,1.02],
  [466,0.58],[467,0.82],[468,1.06],[469,0.68],[470,0.91],[471,0.75],[472,0.55],[473,0.99],[474,0.63],[475,0.86],
  [476,0.72],[477,1.10],[478,0.60],[479,0.80],[480,0.93],[481,0.66],[482,0.54],[483,0.88],[484,0.74],[485,0.96],
  [470,0.80],[478,0.70],[484,0.62],
  [486,0.60],[487,0.83],[488,0.70],[489,1.01],[490,0.57],[491,0.77],[492,0.90],[493,0.64],[494,0.52],[495,0.85],
  [496,0.72],[497,0.95],[498,0.59],[499,0.79],[500,0.66],[501,0.88],[502,0.55],[503,0.74],[504,0.97],[505,0.62],
  [490,0.86],[500,0.80],
  [507,0.84],[509,0.68],[511,0.58],[513,0.90],[515,0.73],[517,0.63],[519,0.81],[521,0.53],[523,0.70],[525,0.88],
  [527,0.60],[529,0.76],[531,0.66],[533,0.52],[535,0.83],[537,0.71],[539,0.58],[541,0.77],[543,0.64],[545,0.85],
  [512,0.98],[525,0.55],[538,0.92],[544,0.51],
  [548,0.67],[551,0.59],[553,0.76],[556,0.55],[558,0.71],[561,0.63],[563,0.80],[566,0.52],[568,0.68],[571,0.60],
  [574,0.56],[577,0.74],[580,0.62],[583,0.54],[585,0.67],[588,0.58],[591,0.64],[595,0.52],[598,0.60],[602,0.55],
  [606,0.62],[610,0.53],[615,0.58],[620,0.50],[628,0.55],[550,0.84],[565,0.73],[580,0.47],[560,0.48],[590,0.75],
  [226,0.95],[232,0.90],[238,0.82],[245,0.93],[250,0.85],[265,0.80],[275,0.75],[285,0.72],[295,0.68],[305,0.64],
  [315,0.60],[285,0.58],[300,0.55],[312,0.56]
];

// normal flow, peak velocity: the heavily overplotted core of the cloud
const normPfvCore = [
  [262,1.41],[338,1.05],[227,1.72],[401,0.88],[296,1.29],[455,0.81],[318,1.47],[246,1.18],[372,1.14],[487,0.71],
  [309,1.02],[234,1.36],[422,0.97],[281,1.60],[353,1.24],[266,1.73],[395,1.09],[441,0.75],[219,1.55],[330,1.31],
  [287,1.13],[366,0.93],[251,1.52],[413,0.79],[301,1.38],[229,1.87],[348,0.95],[472,0.90],[275,1.22],[384,1.26],
  [344,1.36],[258,1.27],[429,1.05],[312,1.15],[238,1.62],[391,0.83],[270,1.48],[463,0.69],[325,0.98],[222,1.33],
  [378,1.04],[293,1.55],[248,1.43],[408,1.13],[336,0.89],[283,1.05],[446,0.94],[316,1.27],[231,1.46],[359,1.18],
  [267,1.16],[397,0.77],[305,1.49],[243,1.77],[362,1.30],[434,0.84],[278,1.34],[321,1.09],[494,0.82],[255,1.63],
  [351,1.08],[226,1.59],[418,0.90],[290,1.20],[375,0.86],[261,1.55],[339,1.40],[452,0.99],[298,1.07],[407,1.01],
  [235,1.29],[320,1.38],[272,1.09],[386,1.15],[244,1.31],[346,0.92],[427,0.73],[285,1.43],[369,1.23],[476,0.76],
  [299,1.63],[253,1.22],[364,0.98],[416,1.17],[327,1.20],[280,1.27],[439,1.02],[224,1.79],[356,1.35],[308,1.29],
  [392,1.05],[264,1.66],[333,1.13],[482,0.86],[247,1.57],[304,1.10],[371,0.83],[423,0.87],[288,1.52],[218,1.42],
  [342,1.27],[259,1.35],[405,0.78],[315,1.53],[237,1.49],[380,1.19],[457,0.74],[276,1.15],[331,0.92],[499,0.66],
  [269,1.58],[389,0.95],[302,1.25],[433,0.99],[250,1.13],[358,1.10],[292,0.98],[415,1.08],[228,1.30],[349,1.42],
  [323,1.41],[376,1.28],[241,1.40],[445,0.82],[311,0.99],[284,1.64],[399,1.16],[263,1.24],[467,0.94],[335,1.18],
  [230,1.66],[354,0.88],[297,1.38],[420,1.04],[273,1.44],[387,0.81],[319,1.14],[254,1.75],[436,0.91],[366,1.19],
  [403,1.20],[282,1.17],[340,0.99],[245,1.49],[313,1.44],[459,0.86],[368,1.06],[221,1.69],[295,1.16],[428,0.95],
  [257,1.38],[324,1.03],[381,0.90],[236,1.54],[410,0.93],[291,1.31],[350,1.30],[471,0.68],[268,1.27],[337,1.25],
  [303,1.21],[239,1.22],[393,1.13],[277,1.56],[361,0.88],[425,1.06],[249,1.67],[329,1.34],[486,0.89],[314,0.97],
  [373,1.25],[286,1.08],[252,1.32],[402,0.85],[341,1.15],[225,1.48],[447,0.77],[306,1.33],[265,1.19],[383,0.97],
  [334,1.38],[271,1.13],[414,1.00],[232,1.77],[357,1.04],[300,1.54],[442,0.96],[260,1.45],[396,0.91],[322,1.22],
  [246,1.61],[379,1.11],[310,1.18],[464,0.84],[289,1.62],[347,1.21],[421,0.79],[274,1.35],[240,1.40],[365,1.26],
  [398,0.99],[328,1.07],[256,1.50],[437,1.08],[294,1.11],[370,0.95],[223,1.80],[318,1.36],[453,0.89],[279,1.28],
  [352,1.39],[263,1.68],[411,1.10],[306,1.04],[242,1.26],[385,1.21],[336,1.29],[478,0.80],[284,1.24],[426,0.89],
  [317,1.52],[388,0.88],[250,1.70],[430,1.00],[298,1.45],[343,1.02],[270,1.19],[406,1.05],[233,1.43],[363,1.13],
  [281,1.37],[344,0.94],[229,1.64],[416,0.86],[308,1.39],[374,1.17],[258,1.47],[449,0.91],[326,1.11],[392,1.18],
  [255,1.29],[360,1.33],[302,1.02],[438,0.80],[276,1.50],[332,1.45],[413,0.94],[244,1.58],[383,1.07],[469,0.77],
  [338,1.19],[291,1.41],[377,0.92],[227,1.38],[319,1.05],[423,0.93],[267,1.31],[355,1.15],[401,1.02],[492,0.74],
  [312,1.34],[248,1.36],[390,1.21],[283,1.12],[350,0.99],[444,1.06],[236,1.71],[327,1.25],[462,0.79],[272,1.62],
  [365,1.02],[296,1.59],[428,1.10],[259,1.20],[337,1.36],[405,0.87],[287,1.27],[224,1.52],[377,1.24],[315,1.17],
  [253,1.46],[412,1.15],[330,1.04],[268,1.40],[382,0.85],[300,1.33],[443,0.88],[239,1.84],[357,1.20],[289,1.46],
  [395,1.14],[277,1.25],[345,1.10],[231,1.55],[307,1.48],[433,0.78],[261,1.30],[372,0.89],[321,1.40],[455,0.94],
  [288,1.39],[359,1.27],[243,1.45],[419,0.97],[310,1.22],[383,1.14],[266,1.52],[339,0.91],[474,0.85],[297,1.19],
  [226,1.63],[348,1.16],[408,0.96],[280,1.45],[320,1.23],[440,1.00],[257,1.60],[368,1.12],[301,1.01],[489,0.78],
  [333,1.28],[271,1.41],[397,1.06],[250,1.25],[358,0.94],[427,1.02],[292,1.36],[238,1.44],[375,1.16],[313,1.07],
  [404,1.11],[264,1.47],[346,1.33],[304,1.36],[230,1.35],[386,0.89],[325,1.45],[460,0.71],[280,1.32],[418,1.12],
  [252,1.56],[367,1.35],[299,1.24],[434,0.94],[316,1.00],[274,1.66],[353,1.08],[241,1.24],[399,1.20],[342,1.10],
  [285,1.20],[411,0.88],[322,1.30],[260,1.52],[380,1.04],[447,0.84],[305,1.57],[233,1.59],[364,1.22],[295,1.34],
  [340,1.03],[269,1.20],[391,1.10],[311,1.26],[248,1.72],[425,0.99],[356,0.97],[279,1.54],[402,1.14],[480,0.92],
  [318,1.20],[237,1.35],[372,1.30],[294,1.05],[416,1.03],[262,1.29],[334,1.22],[451,0.79],[288,1.57],[389,1.02],
  [228,1.44],[345,1.28],[303,1.42],[409,0.81],[275,1.30],[362,1.15],[436,1.05],[254,1.40],[328,1.13],[496,0.85],
  [381,1.27],[290,1.24],[245,1.65],[422,1.02],[312,1.11],[351,1.19],[265,1.36],[394,0.95],[301,1.50],[470,0.87],
  [505,0.70],[512,0.80],[518,0.66],[524,0.75],[530,0.62],[536,0.71],[503,0.88],[515,0.59],[527,0.84],[509,0.63]
];

// frame, rotated y tick labels (R style) and the red percentage
const panelDecor = {
  id: 'panelDecor',
  afterDatasetsDraw(chart, args, opts) {
    const { ctx, chartArea: a, scales } = chart;
    ctx.save();
    ctx.strokeStyle = '#666';
    ctx.lineWidth = 1;
    ctx.strokeRect(Math.round(a.left) + 0.5, Math.round(a.top) + 0.5, Math.round(a.width), Math.round(a.height));

    ctx.font = '8.5px "Liberation Sans", Arial, sans-serif';
    ctx.fillStyle = '#444';
    ctx.textAlign = 'center';
    ctx.textBaseline = 'middle';
    scales.y.ticks.forEach((t, i) => {
      const lab = opts.yLabels[i];
      if (!lab) return;
      ctx.save();
      ctx.translate(a.left - opts.yLabelGap, scales.y.getPixelForValue(t.value));
      ctx.rotate(-Math.PI / 2);
      ctx.fillText(lab, 0, 0);
      ctx.restore();
    });

    const px = scales.x.getPixelForValue(opts.pctAt[0]);
    const py = scales.y.getPixelForValue(opts.pctAt[1]);
    ctx.font = 'bold 21px "Liberation Sans", Arial, sans-serif';
    ctx.shadowColor = 'rgba(80,80,80,0.7)';
    ctx.shadowOffsetX = 1.5;
    ctx.shadowOffsetY = 1.5;
    ctx.shadowBlur = 1.5;
    ctx.fillStyle = '#dc6a5f';
    ctx.fillText(opts.pct, px, py);
    ctx.restore();
  }
};

function makePanel(id, p) {
  const refColor = '#555';
  new Chart(document.getElementById(id), {
    type: 'scatter',
    data: {
      datasets: [
        {
          data: p.points.map(d => ({ x: d[0], y: d[1] })),
          pointRadius: 2.2,
          pointHoverRadius: 2.2,
          borderWidth: 1.05,
          borderColor: 'rgba(0,0,0,0.9)',
          backgroundColor: 'rgba(0,0,0,0)',
          order: 1
        },
        {
          data: p.hLine.map(d => ({ x: d[0], y: d[1] })),
          showLine: true, pointRadius: 0, borderColor: refColor, borderWidth: 1, order: 2
        },
        {
          data: p.vLine.map(d => ({ x: d[0], y: d[1] })),
          showLine: true, pointRadius: 0, borderColor: refColor, borderWidth: 1, order: 2
        }
      ]
    },
    options: {
      responsive: false,
      animation: false,
      events: [],
      layout: { padding: { top: p.padTop, right: p.padRight, left: 0, bottom: 0 } },
      plugins: {
        legend: { display: false },
        tooltip: { enabled: false },
        panelDecor: { yLabels: p.yLabels, yLabelGap: p.yLabelGap, pct: p.pct, pctAt: p.pctAt }
      },
      scales: {
        x: {
          type: 'linear',
          min: p.xMin, max: p.xMax,
          afterBuildTicks: s => { s.ticks = p.xTicks.map(v => ({ value: v })); },
          afterFit: s => { s.height = p.xAxisH; },
          border: { display: false },
          grid: { drawOnChartArea: false, drawTicks: true, tickLength: 4, color: '#666' },
          ticks: { color: '#444', font: { family: '"Liberation Sans", Arial', size: 8.5 }, padding: p.xTickPad, maxRotation: 0, autoSkip: false },
          title: { display: true, text: p.xTitle, color: '#000', font: { family: 'Lato', size: 16, lineHeight: 1.2 }, padding: { top: 0, bottom: p.xTitlePad } }
        },
        y: {
          type: 'linear',
          min: p.yMin, max: p.yMax,
          afterBuildTicks: s => { s.ticks = p.yTicks.map(v => ({ value: v })); },
          afterFit: s => { s.width = p.yAxisW; },
          border: { display: false },
          grid: { drawOnChartArea: false, drawTicks: true, tickLength: 5, color: '#666' },
          ticks: { display: false },
          title: { display: true, text: 'Valve area (cm²)', color: '#000', font: { family: 'Lato', size: 16, lineHeight: 1.2 }, padding: { top: p.yTitlePad, bottom: 0 } }
        }
      }
    },
    plugins: [panelDecor]
  });
}

makePanel('lowMpg', {
  points: lowMpgPoints, hLine: [[0, 1], [100, 1]], vLine: [[40, 0], [40, 2.08]],
  xMin: -4, xMax: 104, yMin: -0.08, yMax: 2.08,
  xTicks: mpgTicks, yTicks: lowMpgYTicks, yLabels: lowMpgYLabels,
  xTitle: 'Mean pressure gradient (mmHg)', pct: pctLabels[0], pctAt: [12.5, 0.40],
  padTop: 14, padRight: 13, yAxisW: 54, xAxisH: 58, xTickPad: 8, xTitlePad: 7, yTitlePad: 0, yLabelGap: 15.5
});

makePanel('lowPfv', {
  points: lowPfvPoints, hLine: [[103.3, 1], [615.8, 1]], vLine: [[400, 0.309], [400, 2.0]],
  xMin: 103.3, xMax: 615.8, yMin: 0.309, yMax: 2.0,
  xTicks: lowPfvTicks, yTicks: lowPfvYTicks, yLabels: lowPfvYLabels,
  xTitle: 'Peak flow velocity (cm/s)', pct: pctLabels[1], pctAt: [180.5, 0.664],
  padTop: 13, padRight: 3, yAxisW: 63, xAxisH: 60, xTickPad: 10, xTitlePad: 6.5, yTitlePad: 23.5, yLabelGap: 17
});

makePanel('normMpg', {
  points: normMpgPoints.concat(normMpgCore), hLine: [[0, 1], [100, 1]], vLine: [[40, 0], [40, 3.12]],
  xMin: -4, xMax: 104, yMin: -0.12, yMax: 3.12,
  xTicks: mpgTicks, yTicks: normMpgYTicks, yLabels: normMpgYLabels,
  xTitle: 'Mean pressure gradient (mmHg)', pct: pctLabels[2], pctAt: [13.2, 0.38],
  padTop: 13, padRight: 13, yAxisW: 54, xAxisH: 48, xTickPad: 9.5, xTitlePad: 1.5, yTitlePad: 0, yLabelGap: 15.5
});

makePanel('normPfv', {
  points: normPfvPoints.concat(normPfvCore), hLine: [[74.6, 1], [661.7, 1]], vLine: [[400, 0.29], [400, 3.0]],
  xMin: 74.6, xMax: 661.7, yMin: 0.29, yMax: 3.0,
  xTicks: normPfvTicks, yTicks: normPfvYTicks, yLabels: normPfvYLabels,
  xTitle: 'Peak flow velocity (cm/s)', pct: pctLabels[3], pctAt: [179.3, 0.657],
  padTop: 13, padRight: 3, yAxisW: 63, xAxisH: 49, xTickPad: 10, xTitlePad: 1.5, yTitlePad: 23.5, yLabelGap: 14.5
});
</script>
</body>
</html>
